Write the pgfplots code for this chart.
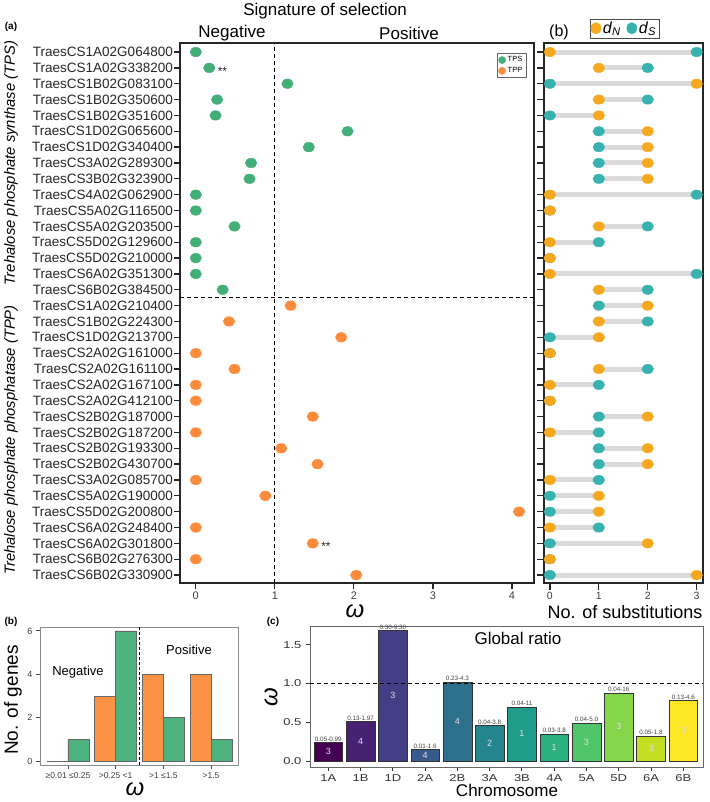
\documentclass[border=0pt]{standalone}
\usepackage{fontspec}
\setmainfont{Liberation Sans}
\usepackage{pgfplots}
\usepackage{pgfplotstable}
\pgfplotsset{compat=1.18}
\pgfplotsset{dotlegend/.style={legend image code/.code={\draw[##1] plot coordinates {(4pt,0pt)};}}}

\definecolor{tps}{HTML}{43AE77}
\definecolor{tpp}{HTML}{FC8C3C}
\definecolor{dn}{HTML}{F6A81E}
\definecolor{ds}{HTML}{38B2AE}
\definecolor{seg}{HTML}{DADADA}
\definecolor{v1}{HTML}{440154}
\definecolor{v2}{HTML}{482173}
\definecolor{v3}{HTML}{433E85}
\definecolor{v4}{HTML}{38598C}
\definecolor{v5}{HTML}{2D708E}
\definecolor{v6}{HTML}{25858E}
\definecolor{v7}{HTML}{1E9B8A}
\definecolor{v8}{HTML}{2BB07F}
\definecolor{v9}{HTML}{51C56A}
\definecolor{v10}{HTML}{85D54A}
\definecolor{v11}{HTML}{C2DF23}
\definecolor{v12}{HTML}{FDE725}

\newcommand{\fs}[1]{\fontsize{#1}{#1}\selectfont}

% omega per gene, row y = 35 - position from top
\pgfplotstableread{
y w
34 0
33 0.17
32 1.16
31 0.27
30 0.25
29 1.92
28 1.43
27 0.70
26 0.68
25 0
24 0
23 0.49
22 0
21 0
20 0
19 0.34
}\tpstab
\pgfplotstableread{
y w
18 1.20
17 0.42
16 1.84
15 0
14 0.49
13 0
12 0
11 1.48
10 0
9 1.08
8 1.54
7 0
6 0.88
5 4.09
4 0
3 1.48
2 0
1 2.03
}\tpptab
% substitutions
\pgfplotstableread{
y dN dS
34 0 3
33 1 2
32 3 0
31 1 2
30 1 0
29 2 1
28 2 1
27 2 1
26 2 1
25 0 3
24 0 0
23 1 2
22 0 1
21 0 0
20 0 3
19 1 2
18 2 1
17 1 2
16 1 0
15 0 0
14 1 2
13 0 1
12 0 0
11 2 1
10 0 1
9 2 1
8 2 1
7 0 1
6 1 0
5 1 0
4 0 1
3 2 0
2 0 0
1 3 0
}\subtab
% global ratio per chromosome
\pgfplotstableread{
x w rng n
0 0.24 0.05-0.99 3
1 0.51 0.13-1.97 4
2 1.68 0.30-9.30 3
3 0.15 0.01-1.6 4
4 1.02 0.23-4.3 4
5 0.46 0.04-3.8 2
6 0.70 0.04-11 1
7 0.35 0.03-3.8 1
8 0.49 0.04-5.0 3
9 0.88 0.04-16 3
10 0.32 0.05-1.8 3
11 0.78 0.13-4.6 3
}\ctab

\begin{document}
\begin{tikzpicture}
\useasboundingbox (0pt,0pt) rectangle (709pt,-802pt);

% ---------- (a) omega per gene ----------
\begin{axis}[
  at={(180pt,-583pt)}, anchor=south west,
  scale only axis, width=354pt, height=540pt,
  xmin=-0.2, xmax=4.28, ymin=0.5, ymax=34.57,
  axis line style={line width=1.1pt, draw=black!85},
  xtick={0,1,2,3,4}, ytick={1,...,34},
  yticklabels={TraesCS6B02G330900,TraesCS6B02G276300,TraesCS6A02G301800,TraesCS6A02G248400,
    TraesCS5D02G200800,TraesCS5A02G190000,TraesCS3A02G085700,TraesCS2B02G430700,
    TraesCS2B02G193300,TraesCS2B02G187200,TraesCS2B02G187000,TraesCS2A02G412100,
    TraesCS2A02G167100,TraesCS2A02G161100,TraesCS2A02G161000,TraesCS1D02G213700,
    TraesCS1B02G224300,TraesCS1A02G210400,TraesCS6B02G384500,TraesCS6A02G351300,
    TraesCS5D02G210000,TraesCS5D02G129600,TraesCS5A02G203500,TraesCS5A02G116500,
    TraesCS4A02G062900,TraesCS3B02G323900,TraesCS3A02G289300,TraesCS1D02G340400,
    TraesCS1D02G065600,TraesCS1B02G351600,TraesCS1B02G350600,TraesCS1B02G083100,
    TraesCS1A02G338200,TraesCS1A02G064800},
  tick align=outside, xtick pos=left, ytick pos=left,
  major tick length=6pt,
  major tick style={line width=1.3pt, draw=black!85},
  yticklabel style={font=\fs{13.5}, text=black!85, inner sep=1pt},
  xticklabel style={font=\fs{11}, text=black!75, yshift=1pt},
  /pgf/number format/assume math mode=true,
  clip=false,
  legend style={at={(1,1)}, anchor=north east, xshift=-8pt, yshift=-10pt,
    font=\fs{7.5}, draw=black!60, inner sep=1.5pt, row sep=0pt,
    /tikz/every even column/.append style={column sep=1pt}},
  legend cell align=left,
]
\draw[dashed, line width=1.2pt, dash pattern=on 4pt off 3pt]
  ({axis cs:1,0}|-{rel axis cs:0,0}) -- ({axis cs:1,0}|-{rel axis cs:0,1});
\draw[dashed, line width=1.2pt, dash pattern=on 4pt off 3pt]
  ({rel axis cs:0,0}|-{axis cs:0,18.5}) -- ({rel axis cs:1,0}|-{axis cs:0,18.5});
\addplot[only marks, mark=*, color=tps, mark size=4.8pt, mark options={xscale=1.2}, forget plot]
  table[x=w, y=y] {\tpstab};
\addplot[only marks, mark=*, color=tpp, mark size=4.8pt, mark options={xscale=1.2}, forget plot]
  table[x=w, y=y] {\tpptab};
\addplot[only marks, mark=none, nodes near coords={**}, forget plot,
  every node near coord/.append style={anchor=west, xshift=5pt, yshift=-3pt, font=\fs{12}, text=black!85}]
  coordinates {(0.17,33) (1.48,3)};
\addlegendimage{dotlegend, mark=*, mark size=3.6pt, color=tps}
\addlegendentry{TPS}
\addlegendimage{dotlegend, mark=*, mark size=3.6pt, color=tpp}
\addlegendentry{TPP}
\end{axis}

% ---------- (b) substitutions ----------
\begin{axis}[
  at={(544pt,-583pt)}, anchor=south west,
  scale only axis, width=159pt, height=540pt,
  xmin=-0.12, xmax=3.13, ymin=0.5, ymax=34.57,
  axis line style={line width=1.1pt, draw=black!85},
  xtick={0,1,2,3}, ytick={1,...,34}, yticklabels={},
  tick align=outside, xtick pos=left, ytick pos=left,
  major tick length=7pt,
  major tick style={line width=1.3pt, draw=black!85},
  xticklabel style={font=\fs{10.5}, text=black!75, yshift=1pt},
  /pgf/number format/assume math mode=true,
  clip=false,
  legend columns=2,
  legend style={at={(0.5,1)}, anchor=south, yshift=5pt, xshift=1pt,
    font=\fs{16}, draw=black!70, inner sep=1pt,
    /tikz/every even column/.append style={column sep=4pt}},
]
\addplot[only marks, mark=none, forget plot,
  error bars/.cd, x dir=plus, x explicit, error mark=none,
  error bar style={line width=5pt, draw=seg}]
  table[x expr={min(\thisrow{dN},\thisrow{dS})}, y=y,
        x error expr={abs(\thisrow{dS}-\thisrow{dN})}] {\subtab};
\addplot[only marks, mark=*, color=ds, mark size=4.7pt, mark options={xscale=1.25}, forget plot]
  table[x=dS, y=y] {\subtab};
\addplot[only marks, mark=*, color=dn, mark size=4.7pt, mark options={xscale=1.25}, forget plot]
  table[x=dN, y=y] {\subtab};
\addlegendimage{dotlegend, mark=*, mark size=5pt, mark options={yscale=1.15}, color=dn}
\addlegendentry{\textit{d}\textsubscript{\textit{N}}}
\addlegendimage{dotlegend, mark=*, mark size=5pt, mark options={yscale=1.15}, color=ds}
\addlegendentry{\textit{d}\textsubscript{\textit{S}}}
\end{axis}

% ---------- lower (b) histogram ----------
\begin{axis}[
  at={(40pt,-765pt)}, anchor=south west,
  scale only axis, width=198pt, height=138pt,
  xmin=0.413, xmax=4.566, ymin=-0.18, ymax=6.18,
  axis line style={draw=black!45, line width=0.8pt},
  xtick={1,2,3,4}, ytick={0,2,4,6},
  xticklabels={{≥0.01 ≤0.25},{>0.25 <1},{>1 ≤1.5},{>1.5}},
  tick align=outside, xtick pos=left, ytick pos=left,
  major tick length=4pt,
  major tick style={line width=0.9pt, draw=black!70},
  xticklabel style={font=\fs{8.5}, text=black!75},
  yticklabel style={font=\fs{9}, text=black!75},
  /pgf/number format/assume math mode=true,
  clip=false,
]
\draw[dashed, line width=1pt, dash pattern=on 3pt off 2pt]
  ({axis cs:2.5,0}|-{rel axis cs:0,0}) -- ({axis cs:2.5,0}|-{rel axis cs:0,1});
\addplot[ybar, bar width=0.44, bar shift=0pt, fill=tpp!95!white, draw=black!60, line width=0.8pt]
  coordinates {(0.78,0) (1.78,3) (2.78,4) (3.78,4)};
\addplot[ybar, bar width=0.44, bar shift=0pt, fill=tps!95!white, draw=black!60, line width=0.8pt]
  coordinates {(1.22,1) (2.22,6) (3.22,2) (4.22,1)};
\end{axis}

% ---------- (c) global ratio ----------
\begin{axis}[
  at={(310pt,-767pt)}, anchor=south west,
  scale only axis, width=393pt, height=141pt,
  xmin=-0.567, xmax=11.61, ymin=-0.077, ymax=1.74,
  axis line style={draw=black!60, line width=1pt},
  xtick={0,...,11}, xticklabels={1A,1B,1D,2A,2B,3A,3B,4A,5A,5D,6A,6B},
  ytick={0,0.5,1,1.5}, yticklabels={0.0,0.5,1.0,1.5},
  tick align=outside, xtick pos=left, ytick pos=left,
  major tick length=4pt,
  major tick style={line width=1pt, draw=black!80},
  xticklabel style={font=\fs{10}, text=black!80, xscale=1.3},
  yticklabel style={font=\fs{10}, text=black!80, xscale=1.3},
  clip=false,
]
\addplot[ybar, bar width=0.89, bar shift=0pt, fill=v1, draw=black!80] coordinates {(0,0.24)};
\addplot[ybar, bar width=0.89, bar shift=0pt, fill=v2, draw=black!80] coordinates {(1,0.51)};
\addplot[ybar, bar width=0.89, bar shift=0pt, fill=v3, draw=black!80] coordinates {(2,1.68)};
\addplot[ybar, bar width=0.89, bar shift=0pt, fill=v4, draw=black!80] coordinates {(3,0.15)};
\addplot[ybar, bar width=0.89, bar shift=0pt, fill=v5, draw=black!80] coordinates {(4,1.02)};
\addplot[ybar, bar width=0.89, bar shift=0pt, fill=v6, draw=black!80] coordinates {(5,0.46)};
\addplot[ybar, bar width=0.89, bar shift=0pt, fill=v7, draw=black!80] coordinates {(6,0.70)};
\addplot[ybar, bar width=0.89, bar shift=0pt, fill=v8, draw=black!80] coordinates {(7,0.35)};
\addplot[ybar, bar width=0.89, bar shift=0pt, fill=v9, draw=black!80] coordinates {(8,0.49)};
\addplot[ybar, bar width=0.89, bar shift=0pt, fill=v10, draw=black!80] coordinates {(9,0.88)};
\addplot[ybar, bar width=0.89, bar shift=0pt, fill=v11, draw=black!80] coordinates {(10,0.32)};
\addplot[ybar, bar width=0.89, bar shift=0pt, fill=v12, draw=black!80] coordinates {(11,0.78)};
\draw[dashed, line width=1.1pt, dash pattern=on 4pt off 3pt]
  ({rel axis cs:0,0}|-{axis cs:0,1}) -- ({rel axis cs:1,0}|-{axis cs:0,1});
\addplot[only marks, mark=none, nodes near coords, point meta=explicit symbolic,
  every node near coord/.append style={anchor=south, font=\fs{6.3}, text=black!75, inner sep=1pt}]
  table[x=x, y=w, meta=rng] {\ctab};
\addplot[only marks, mark=none, nodes near coords, point meta=explicit symbolic,
  every node near coord/.append style={anchor=center, font=\fs{9}, text=white!88!black, inner sep=0pt}]
  table[x=x, y expr=\thisrow{w}/2, meta=n] {\ctab};
\end{axis}

% ---------- text ----------
\node[font=\fs{17}] at (325pt,-11pt) {Signature of selection};
\node[font=\fs{17}] at (232pt,-33pt) {Negative};
\node[font=\fs{17}] at (409pt,-33pt) {Positive};
\node[font=\bfseries\fs{10}] at (11pt,-27pt) {(a)};
\node[font=\fs{16}] at (559pt,-32pt) {(b)};
\node[font=\itshape\fs{14.8}, rotate=90] at (11pt,-163pt) {Trehalose phosphate synthase (TPS)};
\node[font=\itshape\fs{14.8}, rotate=90] at (11pt,-440pt) {Trehalose phosphate phosphatase (TPP)};
\node[font=\itshape\fs{24}] at (355pt,-611pt) {ω};
\node[font=\fs{18}] at (625pt,-612pt) {No. of substitutions};
\node[font=\bfseries\fs{10}] at (11pt,-622pt) {(b)};
\node[font=\fs{19}, rotate=90] at (13pt,-700pt) {No. of genes};
\node[font=\itshape\fs{24}] at (135pt,-789pt) {ω};
\node[font=\fs{13}] at (78pt,-672pt) {Negative};
\node[font=\fs{13}] at (189pt,-650pt) {Positive};
\node[font=\bfseries\fs{10}] at (273pt,-622pt) {(c)};
\node[font=\itshape\fs{24}, rotate=90] at (271pt,-697pt) {ω};
\node[font=\fs{17}] at (518pt,-638pt) {Global ratio};
\node[font=\fs{17}] at (507pt,-790pt) {Chromosome};
\end{tikzpicture}
\end{document}
